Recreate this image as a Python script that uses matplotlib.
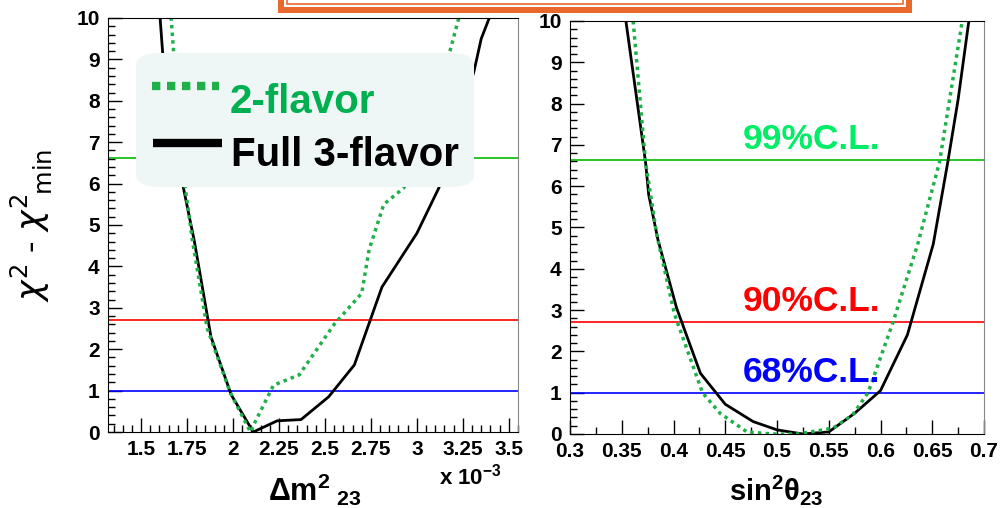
import matplotlib
matplotlib.use('Agg')
import matplotlib.pyplot as plt
from matplotlib.patches import Rectangle, FancyBboxPatch
from matplotlib.lines import Line2D
from matplotlib.ticker import MultipleLocator

plt.rcParams['font.family'] = ['Liberation Sans', 'DejaVu Sans']
plt.rcParams['mathtext.fontset'] = 'custom'
plt.rcParams['mathtext.rm'] = 'Liberation Sans'
plt.rcParams['mathtext.it'] = 'Liberation Sans'
plt.rcParams['mathtext.bf'] = 'Liberation Sans:bold'

# Delta m^2_23 scan (units of 1e-3 eV^2)
dm_full_x = [1.60, 1.62, 1.73, 1.79, 1.88, 1.99, 2.11, 2.24, 2.37, 2.52, 2.66, 2.81, 3.00, 3.12, 3.31, 3.35, 3.42]
dm_full_y = [10.2, 9.0, 5.9, 4.6, 2.3, 0.9, 0.0, 0.27, 0.3, 0.85, 1.62, 3.5, 4.8, 5.9, 8.7, 9.5, 10.3]
dm_2fl_x = [1.66, 1.68, 1.74, 1.78, 1.86, 1.985, 2.095, 2.12, 2.22, 2.36, 2.55, 2.70, 2.74, 2.82, 2.93, 3.18, 3.24]
dm_2fl_y = [10.2, 9.0, 5.9, 4.6, 2.5, 0.95, 0.0, 0.24, 1.13, 1.38, 2.6, 3.35, 4.4, 5.5, 5.9, 9.2, 10.2]

# sin^2 theta_23 scan
th_full_x = [0.354, 0.373, 0.376, 0.385, 0.403, 0.426, 0.45, 0.477, 0.50, 0.525, 0.55, 0.575, 0.60, 0.626, 0.651, 0.665, 0.675, 0.687]
th_full_y = [10.0, 6.58, 5.8, 4.7, 3.05, 1.47, 0.72, 0.3, 0.1, 0.0, 0.05, 0.5, 1.05, 2.4, 4.6, 6.58, 8.1, 10.3]
th_2fl_x = [0.361, 0.373, 0.384, 0.401, 0.428, 0.445, 0.471, 0.495, 0.52, 0.554, 0.573, 0.588, 0.612, 0.636, 0.657, 0.679]
th_2fl_y = [10.0, 6.58, 4.8, 2.9, 1.0, 0.5, 0.05, 0.0, 0.0, 0.14, 0.46, 1.0, 2.7, 4.6, 6.58, 10.0]

# confidence levels
cl_values = [1.0, 2.71, 6.63]
cl_colors = ['#0000ff', '#ff0000', '#00bb00']
cl_labels = ['68%C.L.', '90%C.L.', '99%C.L.']
cl_text_colors = ['#0000ff', '#ff0000', '#00ee66']

GREEN = '#1fb04a'
W, H = 1000, 508

fig = plt.figure(figsize=(10, 5.08), dpi=100)


def px(x, y):
    return x / W, 1 - y / H


def style_axes(ax, xmaj, xmin):
    ax.set_ylim(0, 10)
    ax.yaxis.set_major_locator(MultipleLocator(1))
    ax.yaxis.set_minor_locator(MultipleLocator(0.2))
    ax.xaxis.set_major_locator(MultipleLocator(xmaj))
    ax.xaxis.set_minor_locator(MultipleLocator(xmin))
    ax.tick_params(which='both', direction='in', top=False, right=False)
    ax.tick_params(which='major', length=10, width=1, labelsize=15, pad=6)
    ax.tick_params(which='minor', length=5, width=1)
    ax.spines['right'].set_color('#888888')
    for v, c in zip(cl_values, cl_colors):
        ax.axhline(v, color=c, lw=1.2)


# left panel
ax1 = fig.add_axes([0.108, 0.1496, 0.410, 0.815])
ax1.set_xlim(1.32, 3.55)
style_axes(ax1, 0.25, 0.05)
ax1.plot(dm_full_x, dm_full_y, color='black', lw=2)
ax1.plot(dm_2fl_x, dm_2fl_y, color=GREEN, lw=2.5, linestyle=(0, (1, 1.2)))
ax1.xaxis.set_major_formatter(plt.FuncFormatter(lambda v, p: ('%g' % v)))
for lbl in ax1.get_xticklabels() + ax1.get_yticklabels():
    lbl.set_fontweight('bold')

# right panel
ax2 = fig.add_axes([0.570, 0.1457, 0.414, 0.813])
ax2.set_xlim(0.3, 0.7)
style_axes(ax2, 0.05, 0.025)
ax2.plot(th_full_x, th_full_y, color='black', lw=2)
ax2.plot(th_2fl_x, th_2fl_y, color=GREEN, lw=2.5, linestyle=(0, (1, 1.2)))
ax2.xaxis.set_major_formatter(plt.FuncFormatter(lambda v, p: ('%g' % round(v, 2))))
for lbl in ax2.get_xticklabels() + ax2.get_yticklabels():
    lbl.set_fontweight('bold')
for v, lab, c in zip(cl_values, cl_labels, cl_text_colors):
    ax2.text(0.533, v + 0.1, lab, color=c, fontsize=25.5, fontweight='bold',
             ha='center', va='bottom')

# axis titles
fig.text(*px(32, 225), r'$\chi^2$ - $\chi^2_{\ \ \mathrm{min}}$', rotation=90,
         fontsize=25, ha='center', va='center', math_fontfamily='dejavusans')
fig.text(*px(315, 490), r'$\mathbf{\Delta m^{2}{}_{\ 23}}$', fontsize=22,
         ha='center', va='center')
fig.text(*px(470, 477), r'$\mathbf{x\ 10^{-3}}$', fontsize=16,
         ha='center', va='center')
fig.text(*px(776, 490), r'$\mathbf{sin^{2}\theta_{23}}$', fontsize=21,
         ha='center', va='center')

# legend box
x0, y0 = px(136, 187)
x1, y1 = px(474, 53)
leg = FancyBboxPatch((x0, y0), x1 - x0, y1 - y0, transform=fig.transFigure,
                     boxstyle='round,pad=0,rounding_size=0.025',
                     facecolor='#eef7f6', edgecolor='none', zorder=5)
fig.patches.append(leg)
fig.lines.append(Line2D([152 / W, 219 / W], [1 - 86 / H, 1 - 86 / H],
                        transform=fig.transFigure, color=GREEN, lw=6,
                        linestyle=(0, (1.0, 0.8)), solid_capstyle='butt',
                        dash_capstyle='butt', zorder=6))
fig.lines.append(Line2D([153 / W, 222 / W], [1 - 143 / H, 1 - 143 / H],
                        transform=fig.transFigure, color='black', lw=6,
                        solid_capstyle='butt', zorder=6))
fig.text(*px(230, 102), '2-flavor', color='#00b050', fontsize=29,
         fontweight='bold', va='center', ha='left', zorder=7)
fig.text(*px(231, 155), 'Full 3-flavor', color='black', fontsize=29,
         fontweight='bold', va='center', ha='left', zorder=7)

# orange title frame peeking in at the top
fig.patches.append(Rectangle(px(278, 13), (912 - 278) / W, 20 / H,
                             transform=fig.transFigure, facecolor='#e9692c',
                             edgecolor='none', zorder=8))
fig.patches.append(Rectangle(px(284, 7), (906 - 284) / W, 20 / H,
                             transform=fig.transFigure, facecolor='white',
                             edgecolor='none', zorder=9))
fig.patches.append(Rectangle(px(287, 4), (903 - 287) / W, 20 / H,
                             transform=fig.transFigure, facecolor='white',
                             edgecolor='#e9692c', lw=1.2, zorder=10))

fig.savefig('out.png', dpi=100)
